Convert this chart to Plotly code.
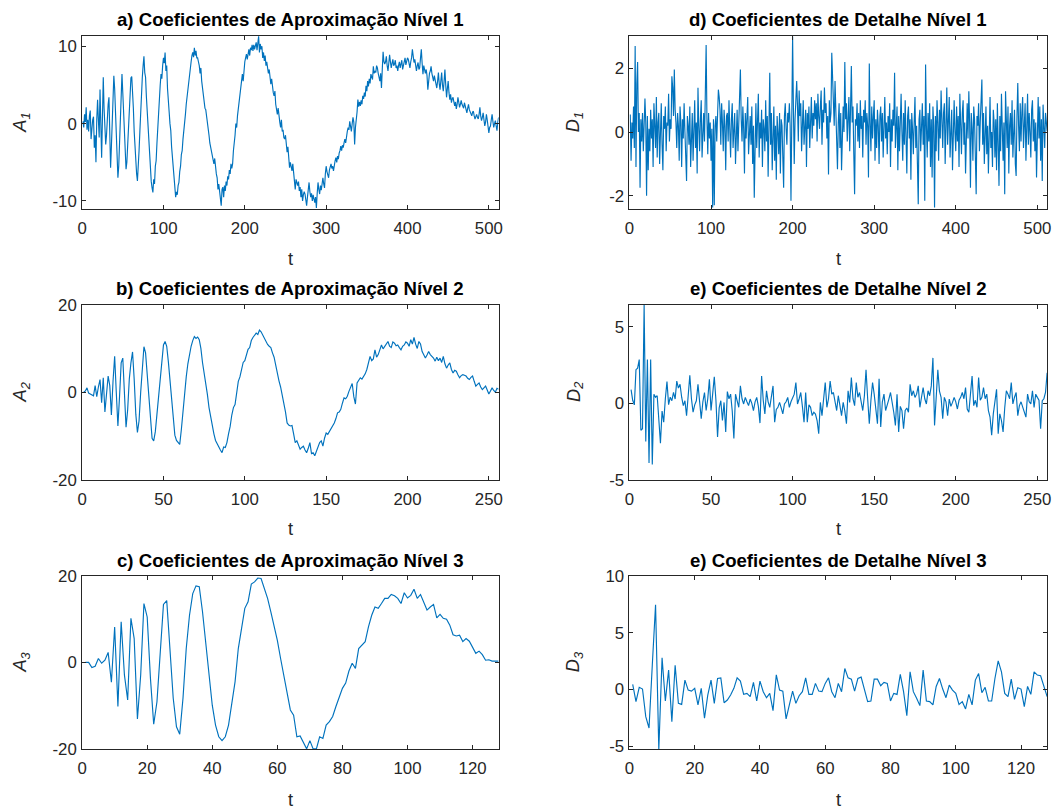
import plotly.graph_objects as go

# ---------------- data ----------------
A1 = [0.3, -0.5, 1.2, 0.2, 2.1, -0.8, 0.5, -1.0, 1.0, 1.7, -2.0, -0.5, 0.5, 0.9, -3.1, -1.5, -5.0, 0.5, 3.1, 0.5, -1.8, 4.4, 1.0, -4.4, 0.8, 6.0, 2.0, -1.0, -2.7, -1.5, 1.0, 2.5, 3.4, -0.5, -5.7, -3.0,
      0.5, 4.0, 6.2, 4.5, 1.5, -2.5, -5.0, -7.0, -5.5, -2.0, 2.0, 5.5, 6.4, 4.0,
      1.5, -1.5, -4.0, -5.9, -5.0, -2.5, 0.0, 2.5, 4.2, 5.9, 6.1, 4.5,
      2.0, -1.0, -3.5, -5.5, -6.5, -7.4, -6.0, -3.5, -1.0, 2.0, 4.5, 6.0, 7.5, 8.7,
      6.6, 6.0, 3.5, 1.5, -1.0, -3.0, -5.0, -6.2, -7.5, -8.3, -8.9, -7.2, -7.8, -5.5, -4.8, -2.5, -0.5, 2.5, 3.5, 5.0, 6.4, 5.8, 7.5, 8.5, 7.8, 9.2,
      6.8, 7.5, 4.5, 3.4, 1.5, 0.0, -0.9, -3.0, -4.5, -6.0, -7.5, -8.5, -9.5, -8.8, -9.2, -8.0, -7.6, -6.2, -5.5, -4.0, -3.5, -2.0, -0.5, 0.5, 1.2, 2.5, 3.5, 4.5, 5.9, 6.5, 7.5, 8.0, 8.8, 9.2, 8.6, 9.8,
      8.8, 9.4, 8.5, 8.5, 8.0, 7.5, 6.5, 7.2, 5.5, 4.5, 3.5, 2.5, 2.0, 1.8, 1.0, 0.8, -0.5, -1.5, -2.5, -3.1, -3.5, -4.5, -5.0, -5.2, -4.5, -6.0, -6.5, -7.0, -8.5, -7.8, -9.0, -9.8, -10.6,
      -8.5, -8.2, -9.5, -8.0, -8.7, -7.5, -8.0, -6.8, -7.2, -6.0, -6.5, -5.2, -5.8, -5.2, -3.5, -2.8, -1.5, 0.0, -0.5, 1.0, 2.0, 2.5, 3.5, 4.5, 5.5, 6.4, 5.5, 7.0, 8.0, 8.5, 9.0, 8.3, 9.2, 9.6, 8.8, 9.8, 9.5, 10.2, 9.4, 10.2, 9.6, 10.0, 10.5, 9.5, 10.8, 11.3,
      9.2, 10.3, 9.6, 10.0, 8.5, 9.2, 8.1, 8.8, 7.5, 8.0, 7.2, 6.5, 7.0, 5.5, 5.1, 5.8, 4.5, 4.0, 3.6, 4.2, 2.5, 2.0, 1.2, 2.0, 0.5, 0.2, -0.5, 0.5, -1.0, -0.8, -1.8, -2.0, -1.5,
      -3.0, -3.7, -3.0, -4.5, -5.7, -5.0, -5.5, -6.1, -5.2, -6.5, -7.0, -8.5, -7.2, -7.6, -8.0, -7.5, -8.7, -8.2, -9.5, -8.5, -10.0, -9.2, -8.8, -9.1, -9.8, -10.6, -9.5, -8.5, -7.6, -8.8, -9.5, -9.0, -10.0, -9.2, -9.8, -10.2, -9.5, -10.9, -9.0, -7.6,
      -8.5, -9.1, -8.0, -8.6, -7.8, -7.0, -7.8, -8.3, -6.5, -5.5, -6.2, -6.5, -7.0, -6.0, -5.5, -5.2, -5.8, -5.5, -6.1, -5.0, -4.8, -4.4, -5.0, -4.2, -4.6, -3.8, -3.5, -2.9, -3.5, -2.8, -3.1, -2.5, -2.0, -2.5, -1.5, -1.0, -0.5, -0.8, 0.3, -0.2, -1.0, 0.0, 0.8, 0.2, -2.7, -0.5, 0.3, 1.5, 3.1, 2.2,
      2.8, 2.3, 3.0, 2.5, 3.6, 3.2, 4.0, 3.5, 4.9, 4.2, 5.5, 4.8, 5.8, 5.2, 6.4, 5.9, 5.7, 7.4, 6.5, 6.8, 6.6, 7.5, 7.2, 6.5, 6.0, 5.5, 6.5, 4.6, 7.0, 9.3, 8.0, 7.7, 8.0, 8.7, 7.5, 6.8, 7.8, 8.9, 8.0, 7.2,
      7.8, 8.3, 7.5, 7.7, 8.2, 7.2, 7.5, 6.8, 7.5, 8.0, 7.2, 7.7, 8.2, 7.0, 7.5, 7.9, 8.5, 7.6, 8.0, 8.5, 8.3, 7.8, 7.2, 8.0, 8.5, 9.6, 8.2, 7.9, 8.3, 7.5, 6.8, 7.5, 7.9, 7.0, 7.2, 8.5, 9.6, 7.8, 6.4, 7.5, 7.0, 6.5, 7.0, 6.2, 4.4, 5.8, 6.5, 6.8, 7.4, 6.5,
      6.0, 5.5, 6.2, 5.5, 5.0, 4.6, 5.5, 6.6, 5.2, 4.4, 5.5, 6.6, 5.0, 4.2, 5.5, 7.0, 5.0, 3.4, 4.5, 5.5, 4.0, 3.1, 3.8, 2.7, 3.2, 3.4, 2.8, 2.3, 2.8, 1.9, 2.5, 3.4, 2.8, 2.1, 2.5, 3.0, 2.5, 2.3, 2.0, 2.7, 2.2, 1.8, 1.4, 2.0, 2.5, 1.8, 1.6, 1.2, 1.0, 1.5,
      1.6, 1.0, 0.6, 0.9, 1.2, 0.8, 0.6, 1.2, 2.1, 1.0, 0.4, 0.8, 1.4, 0.5, -0.3, 0.2, 1.2, 0.5, -0.5, -1.2, -0.5, -0.3, 0.5, 1.2, 0.3, -0.5, 0.0, 0.4, -0.3, -0.9, 0.2, 0.8]

A2 = [0.0, 0.3, 1.0, -0.2, -0.4, -0.6, -0.8, 1.5, -1.0, 1.2, 2.9, -2.4, 3.3, -4.5, 0.5, 3.7, 1.5, -5.2, 2.5, 8.2,
      0.0, -7.7, -1.0, 6.7, 7.8, -1.0, -8.0, -4.0, 3.0, 6.7, 9.2, 3.0, -5.0, -9.2, -6.5, 0.0, 6.0, 10.4, 9.0, 4.0,
      -2.0, -7.5, -10.5, -11.1, -9.0, -5.0, -1.0, 4.0, 8.0, 10.8, 11.6, 10.5, 7.0, 2.5, -2.0, -6.5, -9.8, -11.0, -11.4, -11.9,
      -8.5, -4.0, 0.5, 3.5, 6.5, 8.8, 10.5, 11.8, 12.7, 12.3, 12.6, 12.0, 10.0, 6.8, 4.5, 2.2, -0.5, -3.5, -5.8, -8.0,
      -9.5, -11.0, -11.8, -12.8, -13.2, -13.8, -12.5, -12.6, -11.5, -9.5, -7.8, -5.2, -3.5, -2.8, 0.2, 2.5, 3.5, 5.5, 6.8, 7.2,
      8.8, 9.8, 10.2, 11.8, 12.5, 13.0, 13.5, 13.2, 14.2, 13.8, 13.0, 12.4, 11.8, 10.9, 10.5, 10.2, 9.0, 8.0, 6.2, 4.2,
      2.6, 1.2, -0.5, -2.4, -4.5, -7.0, -7.5, -7.7, -7.6, -9.5, -11.5, -11.1, -12.0, -13.0, -12.6, -12.3, -13.2, -13.8, -12.8, -11.5,
      -14.0, -13.8, -14.5, -13.5, -12.3, -11.5, -11.1, -12.3, -10.5, -9.3, -9.6, -9.0, -8.5, -7.6, -7.0, -6.0, -4.7, -4.5, -3.9, -2.5,
      -1.3, -1.5, -0.9, 0.2, 1.0, 2.0, -1.0, -2.7, 2.1, 2.8, 3.3, 3.0, 3.5, 4.2, 5.2, 6.5, 8.2, 7.2, 7.6, 9.7,
      8.0, 8.6, 9.8, 10.8, 9.9, 10.4, 11.0, 11.6, 10.5, 10.2, 11.5, 11.2, 10.6, 10.8, 10.2, 9.7, 10.5, 10.8, 11.5, 11.2,
      10.5, 12.0, 11.0, 12.5, 11.0, 10.0, 11.6, 11.0, 9.3, 8.5, 7.8, 8.5, 9.3, 8.6, 8.2, 7.8, 7.1, 8.0, 7.2, 7.8,
      6.8, 8.2, 6.5, 5.5, 6.2, 6.7, 5.2, 4.4, 5.0, 4.8, 4.0, 3.3, 3.8, 4.0, 3.9, 3.7, 3.2, 2.9, 3.4, 3.7,
      2.5, 1.4, 1.8, 2.1, 1.2, 0.6, 1.0, 1.4, 0.5, -0.4, 0.3, 1.0, 0.4, 0.0, 0.9, 0.7]

A3 = [0.0, 0.0, -1.2, -0.9, 0.9, -0.2, 0.5, 2.3, -4.6, 8.2, -10.2, 9.4, -2.9, -8.7, 10.2, 5.5, -13.1, -2.9, 13.6, 10.5,
      -3.7, -14.3, -9.1, 2.4, 13.4, 14.3, 4.0, -8.3, -14.9, -16.6, -8.3, 3.2, 10.9, 15.9, 17.7, 17.5, 11.7, 4.8, -2.9, -9.9,
      -14.5, -17.2, -18.1, -17.2, -14.5, -9.1, -4.5, 3.2, 7.8, 12.5, 14.0, 18.1, 18.6, 19.5, 19.4, 17.1, 14.8, 11.7, 8.6, 5.1,
      0.9, -3.0, -7.5, -11.0, -12.2, -17.2, -17.0, -18.7, -20.0, -18.1, -20.0, -20.0, -17.2, -17.6, -14.5, -13.7, -12.5, -10.2, -7.9, -6.0,
      -4.8, -2.0, -0.2, -1.4, 3.2, 4.0, 4.8, 8.2, 10.9, 12.8, 12.5, 13.6, 14.8, 14.8, 15.7, 15.4, 14.8, 13.6, 16.1, 14.9,
      15.5, 16.9, 14.8, 15.7, 14.0, 12.1, 12.8, 13.4, 10.3, 11.1, 10.2, 10.0, 8.6, 6.4, 6.1, 6.3, 4.8, 5.5, 4.9, 3.6,
      2.1, 2.6, 1.8, 0.5, 0.6, 0.3, 0.3, 0.3]

D1 = [0.55, -0.9, 0.3, -0.2, 0.8, -0.5, 2.7, -1.1, 1.5, 2.2, 0.0, 0.6, -1.75, 0.4, -0.3, 0.6,
      -0.6, 0.2, 1.05, 0.3, -2.0, 0.5, -1.2, 0.1, -0.6, 0.7, -0.2, 0.4, -1.1, 0.9, 0.2, -0.5,
      1.1, -0.8, 0.3, 0.6, -1.0, 0.2, 0.9, -0.4, -1.2, 0.5, 0.1, 0.8, -0.6, 0.3, 0.2, 1.2,
      -0.3, 0.4, 0.1, 1.75, 1.4, 0.5, 1.96, 0.7, 0.3, -0.5, 0.6, 0.2, -0.9, 0.8, 0.3, -1.1,
      0.4, -0.2, 0.9, 0.0, -0.7, -1.54, 0.5, 0.2, -0.4, 0.8, -1.1, 0.3, 0.6, -0.9, 0.1, 1.0,
      -0.5, 0.3, -1.3, 1.39, 0.2, -0.6, 0.4, 1.0, -0.8, 0.1, 0.6, -0.3, 0.9, 2.73, 0.4, -0.7,
      0.6, -0.2, 0.3, -0.9, 0.1, -2.37, 0.4, -2.3, 0.2, 0.5, -0.3, 0.8, 1.33, 1.1, 0.7, -0.4,
      0.9, 0.3, -0.6, 0.7, 0.2, -1.2, 0.5, 0.6, -0.3, 1.0, 0.0, -0.8, 0.4, 0.9, -0.5, 0.2,
      0.6, -1.0, 0.3, 0.7, -0.6, 0.2, 0.5, 1.96, 0.4, -0.3, 0.8, 0.1, -1.3, 0.6, -0.2, 0.4,
      1.1, -0.7, 0.3, 0.5, -0.4, 0.8, -1.0, 0.2, -2.06, 0.6, 0.9, -0.5, 0.1, 1.2, -0.8, 0.3,
      -0.2, 0.7, -1.1, 0.4, 0.1, -0.6, 1.0, -0.3, 0.5, -1.4, 0.2, 1.86, -0.4, 0.6, -1.2, 0.3,
      0.8, -0.9, 0.2, -1.5, 0.5, 0.0, -0.7, 0.6, -1.3, 0.4, 0.2, -0.8, -1.75, 0.5, 0.9, 0.1,
      -0.4, 0.6, 0.3, 0.9, 0.2, -2.16, 0.5, 3.0, 0.7, -1.0, 0.4, 1.2, 1.6, 0.8, -0.3, 1.3,
      0.5, 0.9, -0.6, 0.2, 1.0, -0.4, 0.3, 0.7, -1.1, 0.6, 0.1, 0.8, -0.5, 0.4, 1.1, -0.2,
      0.6, 0.2, 1.0, 0.4, 0.9, -0.3, 1.2, 0.5, 0.1, 0.8, 1.3, -0.4, 0.7, 0.3, 1.4, 0.6,
      0.9, -0.2, 0.5, -1.33, 1.0, 0.3, 0.6, 2.49, 1.8, 0.6, 0.2, 1.6, 0.7, -0.4, -1.17, 0.3,
      0.9, -0.5, 0.6, -1.2, 0.2, 0.8, 0.0, 2.2, 0.4, 0.9, -0.3, 0.6, 1.1, -0.6, 0.5, 2.07,
      0.3, 0.8, -0.7, -1.95, 0.4, 0.2, 0.9, -0.3, 0.6, -0.5, 1.0, 0.1, 0.5, -0.8, 0.7, 0.3,
      1.0, -0.4, 0.6, 0.2, -1.43, 2.15, 0.3, -0.6, 0.8, -0.2, 0.5, 1.0, -0.9, 0.4, -0.5, 0.7,
      0.2, -1.0, 0.5, 0.8, -0.3, 0.6, -0.8, 0.4, 1.1, -0.2, 0.3, -0.7, 0.5, 0.0, 0.9, -1.1,
      0.4, -0.3, 0.7, 0.2, 1.86, -0.5, 0.3, 0.8, -1.2, 0.5, -0.6, 0.2, 1.2, 0.0, -0.9, 0.6,
      -0.4, 1.0, 0.2, -1.3, 0.5, 0.8, -0.2, 0.4, -1.5, 0.6, 0.1, -0.7, 0.3, 1.1, -0.5, 0.2,
      -1.0, -2.27, 0.4, 0.7, -0.6, 0.3, 0.9, -0.4, 0.5, -2.16, 2.12, 0.2, -0.8, 0.6, -0.3, 0.9,
      -1.1, 0.4, -1.43, 0.8, 0.2, -2.37, 0.5, -0.6, 1.0, 0.3, -0.9, 0.7, -0.2, 1.3, 0.1, -0.5,
      0.6, 0.9, -1.0, 0.3, 1.4, -0.4, 0.5, 1.1, -0.8, 0.2, 0.7, -1.2, 0.4, 1.0, 0.0, -0.6,
      0.8, -0.3, 0.5, -1.1, 1.2, 0.2, -0.7, 0.6, 1.0, -0.4, 0.3, -1.3, 0.5, 0.9, -0.2, 1.28,
      0.3, -1.75, 0.6, 0.1, -0.9, 0.8, 0.4, -1.2, -1.95, 0.5, 0.2, 0.9, -0.6, 0.3, 1.1, 1.65,
      -0.4, 0.6, -1.0, 0.3, 0.8, -0.7, 0.2, -1.3, 0.5, 1.1, -0.5, 0.0, -1.1, 0.7, 0.3, -0.8,
      0.4, -1.2, 0.9, -0.3, -1.69, 0.5, -0.6, 1.2, 0.1, -0.9, 0.3, -1.95, 1.28, 0.4, -0.5, 0.8,
      -1.3, 0.2, 0.6, -0.4, 1.0, -0.8, 0.3, 0.7, -1.0, -1.38, 0.5, 1.54, 0.2, -0.6, 0.9, -0.3,
      0.6, 1.1, -0.5, 0.3, 0.9, -0.9, 0.2, 1.2, -0.4, 0.6, 0.0, -0.8, 0.7, 1.0, -0.3, 0.4,
      -0.6, 0.3, -1.43, 0.5, 1.1, -0.2, 0.8, -0.9, 0.4, -1.54, 0.86, 0.2, -0.5, 0.6, 0.1, 0.03]

D2 = [0.9, 0.2, -0.1, 2.2, 2.3, 2.86, -1.76, -1.66, 6.45, -2.5, 2.86, -3.9, 2.86, -4.0, 0.6, 0.4, 0.5, -1.0, -2.6, -0.5,
      -1.23, 0.3, 1.42, -0.09, 0.4, 0.17, 0.71, 0.28, 1.46, 1.0, 1.25, 0.4, -0.15, 0.17, -0.8, 0.5, 1.83, 0.3, -0.58, -0.1,
      0.17, 1.25, 0.2, -1.0, 0.1, 0.71, -0.47, 0.3, 1.57, -0.47, 0.6, 1.74, 0.2, -2.19, -0.3, 0.17, -1.12, 0.06, -1.87, 0.77,
      0.3, 0.6, -0.5, -2.3, 0.6, 0.1, -0.26, 1.14, 0.3, -0.04, 0.39, 0.1, -0.15, 0.28, 0.0, -0.47, 0.1, 0.39, -0.2, -1.29,
      1.78, 0.2, -0.69, 0.82, 0.1, -0.26, 0.5, 1.14, -1.23, -0.4, -0.26, 0.06, -0.3, -0.69, -0.04, 0.1, 0.39, -0.26, 0.1, 0.39,
      0.6, 1.36, -0.04, 0.3, 0.71, -0.2, -1.23, 0.71, -1.23, -0.1, -0.26, -0.8, -0.58, -0.7, -1.12, -1.98, 0.06, -0.8, 0.3, 1.36,
      -0.26, 0.3, 1.46, 0.6, 0.71, 0.17, -0.47, 0.5, -0.2, -0.8, 0.06, -0.5, -1.33, 0.82, 0.06, 1.68, 0.3, -0.15, 1.36, 0.4,
      0.71, 0.1, -0.47, 0.5, 2.2, 0.3, -1.33, 0.2, 1.36, 0.6, -0.3, -1.33, 1.6, -1.55, 0.1, 0.6, -0.47, 0.0, 0.28, 0.71,
      0.1, -0.58, -1.44, 0.6, -1.87, -0.2, -0.47, -1.66, -0.47, -0.3, -0.58, 1.25, 0.5, 0.82, 0.39, 0.6, 1.14, -0.26, 0.4, 1.03,
      0.3, -0.04, 0.82, 0.5, 1.14, 2.97, -1.44, 0.71, 2.2, 0.8, 0.39, -1.0, 0.39, 0.1, -0.8, 0.28, -0.2, 0.06, 0.39, 0.1,
      -0.37, 0.2, 0.39, 0.71, 0.3, 1.03, -0.37, -0.58, 0.4, 1.78, -0.15, 0.2, -0.26, 1.68, 0.2, 0.39, 1.03, 0.3, 0.6, -0.47,
      -0.9, -2.08, -0.69, 0.2, 0.92, -1.98, -0.69, -1.12, -1.87, -0.3, 0.82, 0.6, 0.3, 1.36, -0.04, 0.4, 0.71, -0.8, -0.15, 0.1,
      -0.26, -0.5, -0.9, 0.6, 0.1, -0.04, 0.82, -0.26, 0.6, 0.39, 0.2, -1.66, 0.17, 0.3, 0.71, 1.99]

D3 = [0.44, -1.08, 0.18, 0.03, -2.4, -3.4, 2.13, 7.45, -5.3, 2.78, -1.02, 1.7, -2.84, 2.13, -1.23, -1.32, 0.82, -0.06, -0.15, 0.09,
      -1.37, 0.09, -2.54, -0.5, 0.82, -1.23, 0.96, 1.02, -1.17, -0.94, -0.5, 0.09, 1.02, 0.73, -0.44, -0.35, -0.64, 0.61, -1.02, 0.73,
      -0.2, -0.73, -0.35, -1.87, 1.28, -0.06, -0.15, -2.6, -1.37, -0.15, -1.23, -0.56, -0.2, 1.02, -0.44, -0.44, 0.53, -0.15, -0.2, 0.53,
      1.02, -0.2, -0.73, 0.53, -0.2, 1.84, 1.02, 0.9, -0.15, 0.96, 1.08, 0.03, -1.08, -1.02, 0.9, 0.9, 0.32, 0.61, 0.53, -1.02,
      -0.35, -0.44, 1.32, -0.2, -2.31, 1.55, -0.2, -0.79, -1.43, 1.7, -1.02, -1.08, -1.37, 0.26, 0.96, 0.03, -0.73, 0.38, -0.06, -0.35,
      -1.32, -1.08, -1.72, -0.44, -1.37, 0.82, 1.4, -0.29, 0.18, -1.02, -1.02, 0.96, 2.51, 1.55, -0.35, -0.64, 0.9, -0.88, 0.15, 0.03,
      -1.52, 0.26, -0.44, 1.55, 1.26, 1.2, 0.26, -0.64]

TITLES = ["a) Coeficientes de Aproximação Nível 1", "d) Coeficientes de Detalhe Nível 1",
          "b) Coeficientes de Aproximação Nível 2", "e) Coeficientes de Detalhe Nível 2",
          "c) Coeficientes de Aproximação Nível 3", "e) Coeficientes de Detalhe Nível 3"]
YLABELS = ["<i>A<sub>1</sub></i>", "<i>D<sub>1</sub></i>",
           "<i>A<sub>2</sub></i>", "<i>D<sub>2</sub></i>",
           "<i>A<sub>3</sub></i>", "<i>D<sub>3</sub></i>"]
SERIES = [A1, D1, A2, D2, A3, D3]
XMAX = [512, 512, 256, 256, 128, 128]
XTICKS = [[0, 100, 200, 300, 400, 500], [0, 100, 200, 300, 400, 500],
          [0, 50, 100, 150, 200, 250], [0, 50, 100, 150, 200, 250],
          [0, 20, 40, 60, 80, 100, 120], [0, 20, 40, 60, 80, 100, 120]]
YRANGES = [[-11.05, 11.35], [-2.42, 3.02], [-20, 20], [-5.0, 6.45], [-20, 20], [-5.24, 10]]
YTICKS = [[-10, 0, 10], [-2, 0, 2], [-20, 0, 20], [-5, 0, 5], [-20, 0, 20], [-5, 0, 5, 10]]

# ---------------- layout geometry ----------------
# Target positions are given in screenshot pixels; the photographed page is a
# slightly larger area (with the 8px body margin) scaled down, so convert.
W, H, OFF = 1057, 812, 8
SX, SY = 1073 / 1057, 830 / 812
COLS = [(84.5, 498.3), (628.3, 1043.3)]
ROWS = [(34.7, 208.3), (304.0, 479.5), (575.7, 749.0)]
TITLE_Y = [18, 288, 560]
XLAB_Y = [258, 528, 800]
YLAB_X = [24, 574]


def px(x):
    return (x * SX - OFF) / W


def py(y):
    return 1 - (y * SY - OFF) / H


FONT = "Liberation Sans, Arial, Helvetica, sans-serif"
AX = "#262626"
LINE = "#0072BD"

fig = go.Figure()
annotations = []
layout = dict(width=W, height=H, autosize=False, margin=dict(l=0, r=0, t=0, b=0, pad=0),
              paper_bgcolor="white", plot_bgcolor="white", showlegend=False,
              font=dict(family=FONT, size=16, color=AX))

for i in range(6):
    r, c = divmod(i, 2)
    n = i + 1
    xs = "x" if n == 1 else f"x{n}"
    ys = "y" if n == 1 else f"y{n}"
    vals = SERIES[i]
    t = list(range(1, len(vals) + 1))
    fig.add_trace(go.Scatter(x=t, y=vals, mode="lines", xaxis=xs, yaxis=ys,
                             line=dict(color=LINE, width=1.15), hoverinfo="skip"))
    x0, x1 = COLS[c]
    y0, y1 = ROWS[r]
    common = dict(showline=True, linecolor=AX, linewidth=1, mirror="ticks", ticks="inside",
                  ticklen=4, tickcolor=AX, tickwidth=1, showgrid=False, zeroline=False,
                  tickfont=dict(family=FONT, size=16.8, color=AX))
    layout["xaxis" if n == 1 else f"xaxis{n}"] = dict(
        domain=[px(x0), px(x1)], anchor=ys, range=[0, XMAX[i]],
        tickmode="array", tickvals=XTICKS[i], ticklabelstandoff=4, **common)
    layout["yaxis" if n == 1 else f"yaxis{n}"] = dict(
        domain=[py(y1), py(y0)], anchor=xs, range=YRANGES[i],
        tickmode="array", tickvals=YTICKS[i], ticktext=[str(v) for v in YTICKS[i]],
        ticklabelstandoff=1, **common)
    cx = (x0 + x1) / 2
    annotations.append(dict(text="<b>" + TITLES[i] + "</b>", x=px(cx), y=py(TITLE_Y[r]),
                            xref="paper", yref="paper", showarrow=False, xanchor="center",
                            yanchor="middle", font=dict(family=FONT, size=18.6, color="black")))
    annotations.append(dict(text="t", x=px(cx), y=py(XLAB_Y[r]), xref="paper", yref="paper",
                            showarrow=False, xanchor="center", yanchor="middle",
                            font=dict(family=FONT, size=18.3, color=AX)))
    annotations.append(dict(text=YLABELS[i], x=px(YLAB_X[c]), y=py((y0 + y1) / 2),
                            xref="paper", yref="paper", showarrow=False, xanchor="center",
                            yanchor="middle", textangle=-90,
                            font=dict(family=FONT, size=18.3, color=AX)))

layout["annotations"] = annotations
fig.update_layout(**layout)
fig.write_html("out.html")
